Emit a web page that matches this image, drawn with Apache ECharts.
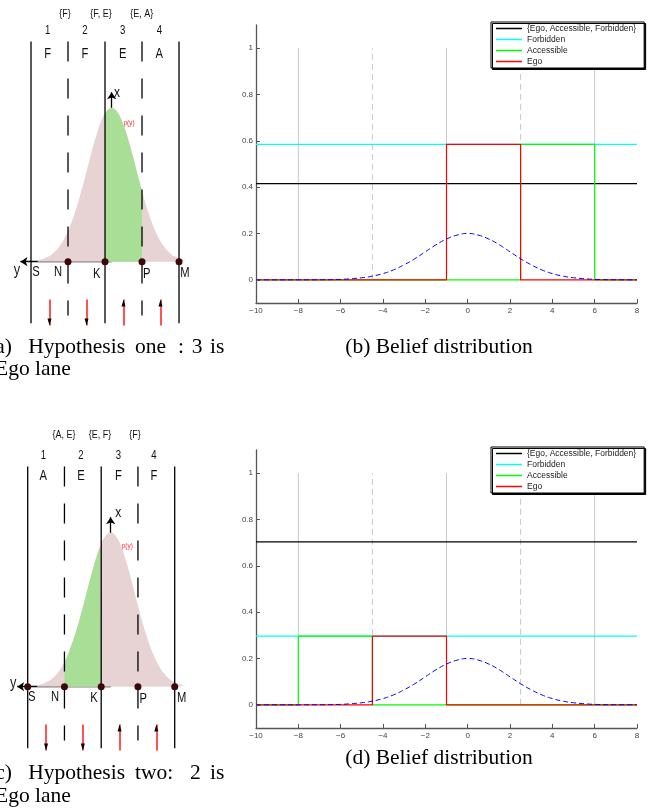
<!DOCTYPE html>
<html>
<head>
<meta charset="utf-8">
<script src="https://cdn.jsdelivr.net/npm/echarts@6/dist/echarts.min.js"></script>
<style>
  html, body { margin: 0; padding: 0; background: #fff; }
  #chart { width: 651px; height: 809px; }
</style>
</head>
<body>
<div id="chart"></div>
<script>
// ticks of the belief plots
var xTicks = [-10, -8, -6, -4, -2, 0, 2, 4, 6, 8];
var yTicks = [0, 0.2, 0.4, 0.6, 0.8, 1];

// lane borders S N K P M (same positions in every panel)
var edgeNames = ['S', 'N', 'K', 'P', 'M'];
var laneEdges = [-8, -4.5, -1, 2.5, 6];
var edgeDashed = [false, true, false, true, false];
var laneCenters = [-6.25, -2.75, 0.75, 4.25];

var beliefNames = ['{Ego, Accessible, Forbidden}', 'Forbidden', 'Accessible', 'Ego'];
var beliefColors = ['#000000', '#00ffff', '#00ff00', '#ff0000'];

// (b) hypothesis one : 3 is ego lane
var allH1 = [[-10, 0.415], [8, 0.415]];
var forbiddenH1 = [[-10, 0.585], [8, 0.585]];
var accessibleH1 = [[-10, 0], [2.5, 0], [2.5, 0.585], [6, 0.585], [6, 0], [8, 0]];
var egoH1 = [[-10, 0], [-1, 0], [-1, 0.585], [2.5, 0.585], [2.5, 0], [8, 0]];

// (d) hypothesis two : 2 is ego lane
var allH2 = [[-10, 0.703], [8, 0.703]];
var forbiddenH2 = [[-10, 0.297], [8, 0.297]];
var accessibleH2 = [[-10, 0], [-8, 0], [-8, 0.297], [-4.5, 0.297], [-4.5, 0], [8, 0]];
var egoH2 = [[-10, 0], [-4.5, 0], [-4.5, 0.297], [-1, 0.297], [-1, 0], [8, 0]];

// p(y), blue dashed curve
var pdfX = [-10, -9, -8, -7, -6, -5.5, -5, -4.5, -4, -3.5, -3, -2.5, -2, -1.5, -1, -0.5, 0,
            0.5, 1, 1.5, 2, 2.5, 3, 3.5, 4, 4.5, 5, 5.5, 6, 7, 8];
var pdfY = [0, 0, 0.0001, 0.0004, 0.002, 0.005, 0.009, 0.016, 0.027, 0.043, 0.065, 0.091, 0.121, 0.151, 0.176, 0.193, 0.2,
            0.193, 0.176, 0.151, 0.121, 0.091, 0.065, 0.043, 0.027, 0.016, 0.009, 0.005, 0.002, 0.0004, 0.0001];

// sketch of p(y) in (a) and (c), height relative to its peak
var sketchOffsets = [-7, -6.5, -6, -5.5, -5, -4.5, -4, -3.5, -3, -2.5, -2, -1.5, -1, -0.5, 0,
                     0.5, 1, 1.5, 2, 2.5, 3, 3.5, 4, 4.5, 5, 5.5, 6, 6.5, 7];
var sketchHeights = [0.01, 0.018, 0.033, 0.057, 0.094, 0.148, 0.22, 0.314, 0.427, 0.554, 0.685, 0.809, 0.91, 0.977, 1,
                     0.977, 0.91, 0.809, 0.685, 0.554, 0.427, 0.314, 0.22, 0.148, 0.094, 0.057, 0.033, 0.018, 0.01];
var peakA = -0.37, peakC = -0.1;
var greenSpanA = [-1, 2.5], greenEdgeHA = [0.96, 0.46];
var greenSpanC = [-4.5, -1], greenEdgeHC = [0.15, 0.92];
var dotsA = [false, true, true, true, true];
var dotsC = [true, true, true, true, true];
var arrowDir = [-1, -1, 1, 1];
var laneNumbers = ['1', '2', '3', '4'];
var lanesA = ['F', 'F', 'E', 'A'], setsA = ['{F}', '{F, E}', '{E, A}'];
var lanesC = ['A', 'E', 'F', 'F'], setsC = ['{A, E}', '{E, F}', '{F}'];

// sketch extents (sketch units, peak = 1)
var laneTop = 1.43, laneBottom = -0.40, dashBottom = -0.35;
var arrowHigh = -0.245, arrowLow = -0.415;
var yArrowEnd = -9, xArrowTop = 1.1;

var chart = echarts.init(document.getElementById('chart'));
var FONT = 'Liberation Sans';
var SERIF = 'Liberation Serif';

function fmtMinus(v) {
  return v < 0 ? '\u2212' + (-v) : String(v);
}

function beliefAxes(g) {
  var axisLine = { show: true, onZero: false, lineStyle: { color: '#555', width: 1.3 } };
  var tick = { show: true, inside: true, length: 4, lineStyle: { color: '#555' } };
  return {
    x: {
      type: 'value', gridIndex: g, min: -10, max: 8, interval: 2,
      axisLine: axisLine, axisTick: tick, splitLine: { show: false },
      axisLabel: { fontSize: 8, fontFamily: FONT, color: '#444', margin: 4, formatter: fmtMinus }
    },
    y: {
      type: 'value', gridIndex: g, min: -0.1, max: 1.1,
      axisLine: axisLine, splitLine: { show: false },
      axisTick: { show: true, inside: true, length: 4, lineStyle: { color: '#555' }, customValues: yTicks },
      axisLabel: { fontSize: 8, fontFamily: FONT, color: '#444', margin: 3, customValues: yTicks,
                   formatter: function (v) { return String(v); } }
    }
  };
}

function beliefSeries(g, sets) {
  var out = [];
  laneEdges.forEach(function (e, i) {
    out.push({
      type: 'line', xAxisIndex: g, yAxisIndex: g, silent: true, symbol: 'none',
      data: [[e, 0], [e, 1]],
      lineStyle: { color: '#c8c8c8', width: 1, type: edgeDashed[i] ? [6, 4] : 'solid' }
    });
  });
  sets.forEach(function (d, i) {
    out.push({
      type: 'line', name: beliefNames[i], xAxisIndex: g, yAxisIndex: g, symbol: 'none',
      data: d, color: beliefColors[i],
      itemStyle: { color: beliefColors[i] },
      lineStyle: { color: beliefColors[i], width: 1.2 }
    });
  });
  out.push({
    type: 'line', xAxisIndex: g, yAxisIndex: g, symbol: 'none', smooth: true,
    data: pdfX.map(function (x, i) { return [x, pdfY[i]]; }),
    lineStyle: { color: '#0000ff', width: 1, type: [5, 3] }
  });
  return out;
}

function sketchSeries(g, peak, span, edgeH, dots) {
  var out = [];
  var curve = sketchOffsets.map(function (u, i) { return [peak + u, sketchHeights[i]]; });
  out.push({
    type: 'line', xAxisIndex: g, yAxisIndex: g, symbol: 'none', smooth: true, silent: true,
    data: curve, lineStyle: { width: 0 }, areaStyle: { color: '#e7d3d3', opacity: 1 }
  });
  var green = [[span[0], 0], [span[0], edgeH[0]]];
  curve.forEach(function (p) { if (p[0] > span[0] && p[0] < span[1]) green.push(p); });
  green.push([span[1], edgeH[1]], [span[1], 0]);
  out.push({
    type: 'line', xAxisIndex: g, yAxisIndex: g, symbol: 'none', silent: true,
    data: green, lineStyle: { width: 0 }, areaStyle: { color: '#a9de97', opacity: 1 }
  });
  laneEdges.forEach(function (e, i) {
    out.push({
      type: 'line', xAxisIndex: g, yAxisIndex: g, symbol: 'none', silent: true,
      data: [[e, laneTop], [e, edgeDashed[i] ? dashBottom : laneBottom]],
      lineStyle: { color: '#000', width: 1.3, type: edgeDashed[i] ? [20, 17] : 'solid' }
    });
  });
  out.push({
    type: 'lines', coordinateSystem: 'cartesian2d', xAxisIndex: g, yAxisIndex: g, silent: true,
    symbol: ['none', 'arrow'], symbolSize: 7,
    lineStyle: { color: '#000', width: 1.3, opacity: 1 },
    data: [{ coords: [[peak, 0], [yArrowEnd, 0]] }, { coords: [[peak, 0], [peak, xArrowTop]] }]
  });
  out.push({
    type: 'scatter', xAxisIndex: g, yAxisIndex: g, silent: true, symbolSize: 7, z: 5,
    itemStyle: { color: '#3d0808', opacity: 1 },
    data: laneEdges.filter(function (e, i) { return dots[i]; }).map(function (e) { return [e, 0]; })
  });
  out.push({
    type: 'lines', coordinateSystem: 'cartesian2d', xAxisIndex: g, yAxisIndex: g, silent: true,
    lineStyle: { color: '#ff1a1a', width: 1.5, opacity: 1 },
    data: laneCenters.map(function (c, i) {
      return { coords: arrowDir[i] < 0 ? [[c, arrowHigh], [c, arrowLow]] : [[c, arrowLow], [c, arrowHigh]] };
    })
  });
  out.push({
    type: 'scatter', xAxisIndex: g, yAxisIndex: g, silent: true, symbol: 'triangle', symbolSize: [4, 7],
    itemStyle: { color: '#000', opacity: 1 }, z: 5,
    data: laneCenters.map(function (c, i) {
      return arrowDir[i] < 0
        ? { value: [c, arrowLow], symbolRotate: 180, symbolOffset: [0, -3.5] }
        : { value: [c, arrowHigh], symbolOffset: [0, 3.5] };
    })
  });
  return out;
}

function txt(x, y, text, size, extra) {
  extra = extra || {};
  return {
    type: 'text', x: x, y: y, scaleX: extra.scaleX || 1, silent: true,
    style: {
      text: text, fontSize: size, fontFamily: extra.family || FONT,
      fill: extra.fill || '#111', align: extra.align || 'center', verticalAlign: 'middle'
    }
  };
}

function cap(x, y, text, align) {
  return txt(x, y, text, 21.5, { family: SERIF, align: align || 'left', fill: '#000' });
}

function sketchLabels(p) {
  var g = [];
  p.sets.forEach(function (s, i) { g.push(txt(p.setX[i], p.setY, s, 10, { scaleX: 0.9 })); });
  p.laneX.forEach(function (x, i) {
    g.push(txt(x, p.numY, laneNumbers[i], 12, { scaleX: 0.8 }));
    g.push(txt(x, p.letY, p.lanes[i], 14, { scaleX: 0.8 }));
  });
  g.push(txt(p.xLab[0], p.xLab[1], 'x', 15, { scaleX: 0.8 }));
  g.push(txt(p.pLab[0], p.pLab[1], 'p(y)', 8, { scaleX: 0.8, fill: '#ff2a2a' }));
  g.push(txt(p.yLab[0], p.yLab[1], 'y', 16, { scaleX: 0.8 }));
  edgeNames.forEach(function (n, i) { g.push(txt(p.edgeLab[i][0], p.edgeLab[i][1], n, 14, { scaleX: 0.8 })); });
  return g;
}

var graphics = []
  .concat(sketchLabels({
    sets: setsA, setX: [65, 101, 141.7], setY: 14, laneX: [47.7, 85, 122.7, 159.3], numY: 31, letY: 54,
    lanes: lanesA, xLab: [117, 93], pLab: [129, 123], yLab: [17, 271],
    edgeLab: [[36, 272], [58, 272], [96.7, 274], [146.7, 274], [185, 273]]
  }))
  .concat(sketchLabels({
    sets: setsC, setX: [64, 100, 135], setY: 435, laneX: [43.3, 81, 118.3, 154], numY: 456, letY: 476,
    lanes: lanesC, xLab: [118.3, 513], pLab: [127.3, 545.5], yLab: [13.3, 684],
    edgeLab: [[31.7, 696.7], [55, 696.7], [94, 698], [143.3, 699], [181.7, 697.7]]
  }))
  .concat([
    cap(12, 347, '(a)', 'right'), cap(28.3, 347, 'Hypothesis'), cap(135, 347, 'one'),
    cap(178, 347, ':'), cap(191.7, 347, '3'), cap(210, 347, 'is'),
    cap(-5, 369, 'Ego lane'),
    cap(12, 773, '(c)', 'right'), cap(28.3, 773, 'Hypothesis'), cap(135, 773, 'two:'),
    cap(190, 773, '2'), cap(210, 773, 'is'),
    cap(-5, 796, 'Ego lane'),
    cap(439, 347, '(b) Belief distribution', 'center'),
    cap(439, 758, '(d) Belief distribution', 'center')
  ]);

var axB = beliefAxes(1), axD = beliefAxes(3);
function hiddenX(g) { return { type: 'value', gridIndex: g, min: -10, max: 8, show: false }; }
function hiddenY(g) { return { type: 'value', gridIndex: g, min: -0.5, max: 1.6, show: false }; }

function legendAt(top) {
  return {
    data: beliefNames, orient: 'vertical', left: 491, top: top, icon: 'rect',
    itemWidth: 26, itemHeight: 1.5, itemGap: 2, padding: [2, 8, 2, 5],
    backgroundColor: '#fff', borderColor: '#000', borderWidth: 1,
    shadowColor: '#000', shadowOffsetX: 1.5, shadowOffsetY: 1.5, shadowBlur: 0,
    selectedMode: false,
    textStyle: { fontSize: 8.5, fontFamily: FONT, color: '#222', lineHeight: 9 }
  };
}

chart.setOption({
  animation: false,
  backgroundColor: '#fff',
  grid: [
    { left: 9.86, top: 15.3, width: 190.3, height: 323.4 },
    { left: 256, top: 25, width: 381, height: 278 },
    { left: 6.7, top: 440.3, width: 189, height: 323.4 },
    { left: 256, top: 450, width: 381, height: 278 }
  ],
  xAxis: [hiddenX(0), axB.x, hiddenX(2), axD.x],
  yAxis: [hiddenY(0), axB.y, hiddenY(2), axD.y],
  legend: [legendAt(22), legendAt(447)],
  series: []
    .concat(sketchSeries(0, peakA, greenSpanA, greenEdgeHA, dotsA))
    .concat(beliefSeries(1, [allH1, forbiddenH1, accessibleH1, egoH1]))
    .concat(sketchSeries(2, peakC, greenSpanC, greenEdgeHC, dotsC))
    .concat(beliefSeries(3, [allH2, forbiddenH2, accessibleH2, egoH2])),
  graphic: graphics
});
</script>
</body>
</html>
